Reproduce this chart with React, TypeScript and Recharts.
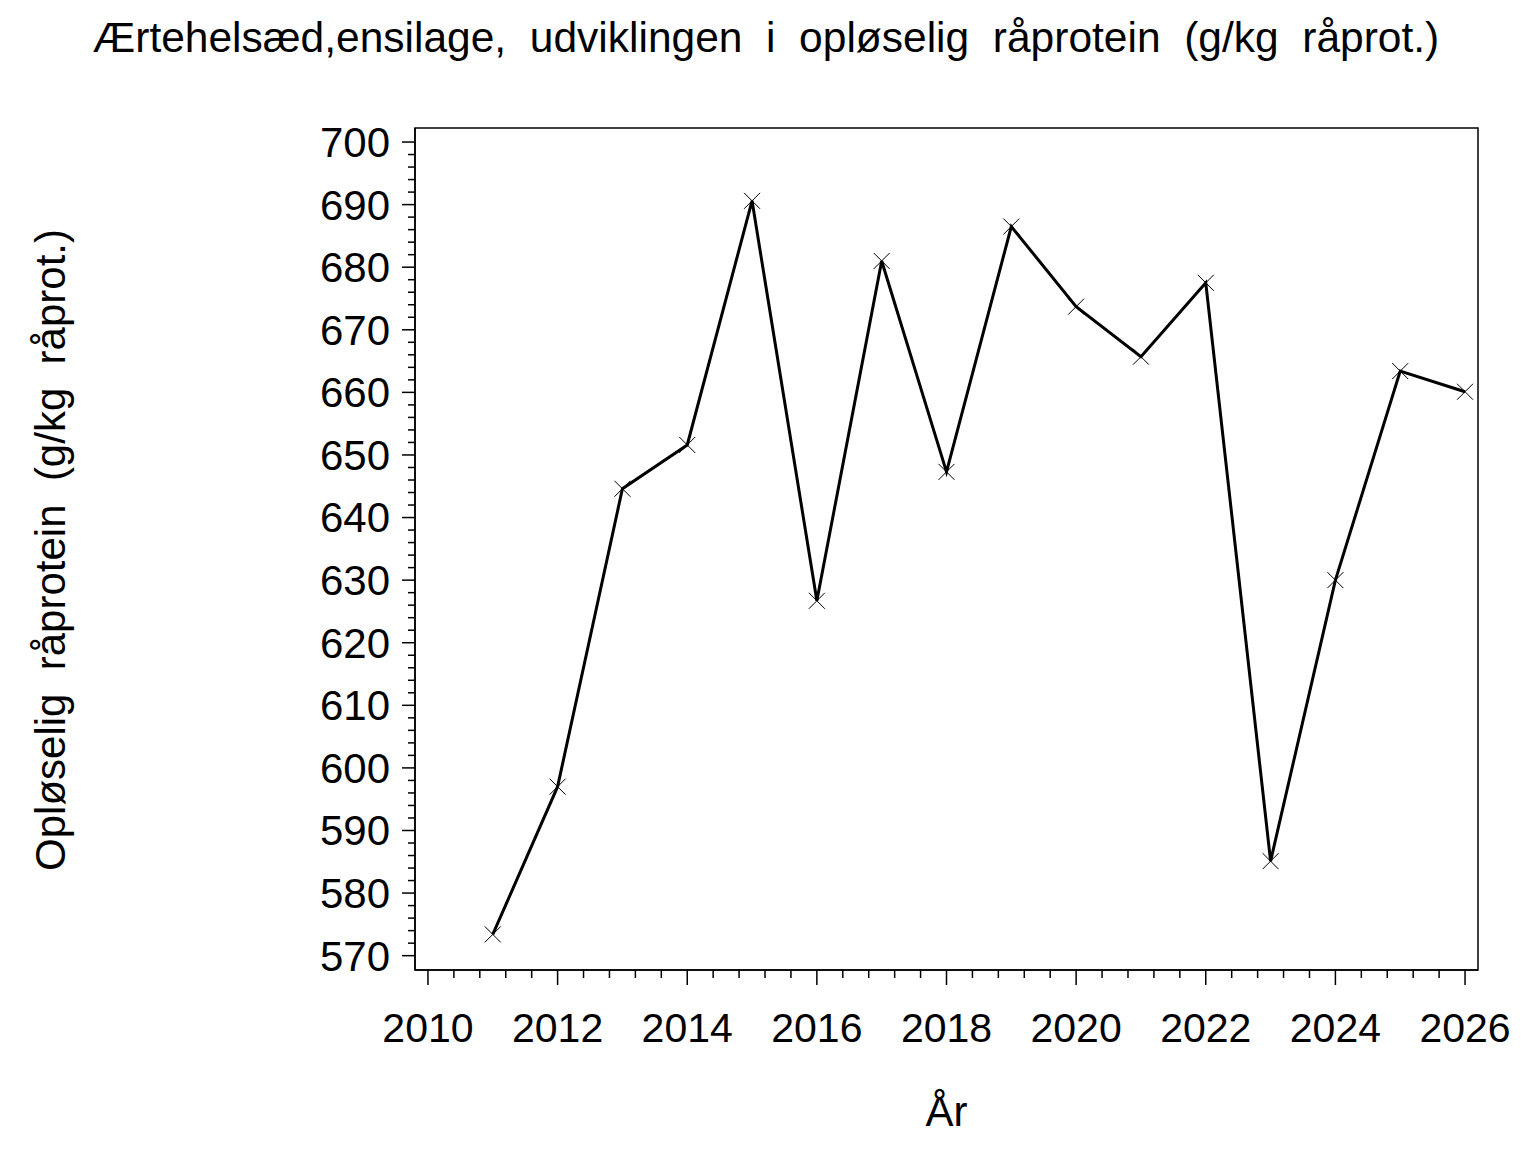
import React from 'react';
import { LineChart, Line, XAxis, YAxis, ReferenceArea } from 'recharts';

const years = [2011, 2012, 2013, 2014, 2015, 2016, 2017, 2018, 2019, 2020, 2021, 2022, 2023, 2024, 2025, 2026];
const values = [573.4, 597.0, 644.6, 651.6, 690.6, 626.7, 681.0, 647.3, 686.5, 673.7, 665.7, 677.5, 585.1, 630.0, 663.4, 660.1];

const yTicks = Array.from({ length: 66 }, (_, i) => 570 + i * 2);
const xTicks = Array.from({ length: 41 }, (_, i) => Math.round((2010 + i * 0.4) * 10) / 10);

const title = 'Ærtehelsæd,ensilage,  udviklingen  i  opløselig  råprotein  (g/kg  råprot.)';
const yLabel = 'Opløselig  råprotein  (g/kg  råprot.)';
const xLabel = 'År';

const data = years.map((y, i) => ({ year: y, value: values[i] }));

const FONT = '"Liberation Sans", Arial, sans-serif';
const W = 1520;
const H = 1136;

const YTick = (props: any) => {
  const { x, y, payload } = props;
  const v = payload.value;
  const major = Math.abs(v / 10 - Math.round(v / 10)) < 1e-6;
  return (
    <g>
      <line x1={x - (major ? 13 : 7)} x2={x} y1={y} y2={y} stroke="#000" strokeWidth={1.5} />
      {major && (
        <text x={x - 25} y={y} dy="0.355em" textAnchor="end" fontFamily={FONT} fontSize={42} fill="#000">
          {v}
        </text>
      )}
    </g>
  );
};

const XTick = (props: any) => {
  const { x, y, payload } = props;
  const v = payload.value;
  const major = Math.abs(v - Math.round(v)) < 1e-6 && Math.round(v) % 2 === 0;
  return (
    <g>
      <line x1={x} x2={x} y1={y} y2={y + (major ? 15 : 8)} stroke="#000" strokeWidth={1.5} />
      {major && (
        <text x={x} y={y + 72} textAnchor="middle" fontFamily={FONT} fontSize={41} fill="#000">
          {Math.round(v)}
        </text>
      )}
    </g>
  );
};

const XDot = (props: any) => {
  const { cx, cy } = props;
  if (cx == null || cy == null) return null;
  const s = 8;
  return (
    <g>
      <line x1={cx - s} y1={cy - s} x2={cx + s} y2={cy + s} stroke="#000" strokeWidth={1} />
      <line x1={cx - s} y1={cy + s} x2={cx + s} y2={cy - s} stroke="#000" strokeWidth={1} />
    </g>
  );
};

export default function App() {
  return (
    <div style={{ position: 'relative', width: W, height: H, background: '#fff' }}>
      <LineChart width={W} height={H} data={data} margin={{ top: 120, right: 50, bottom: 0, left: 0 }}>
        <XAxis
          dataKey="year"
          type="number"
          domain={[2009.8, 2026.2]}
          ticks={xTicks}
          interval={0}
          height={174}
          tickSize={0}
          tickMargin={0}
          tickLine={false}
          axisLine={{ stroke: '#000', strokeWidth: 1.5 }}
          tick={<XTick />}
          allowDataOverflow
        />
        <YAxis
          type="number"
          domain={[567.71, 702.24]}
          ticks={yTicks}
          interval={0}
          width={407}
          tickSize={0}
          tickMargin={0}
          tickLine={false}
          axisLine={{ stroke: '#000', strokeWidth: 1.5 }}
          tick={<YTick />}
          allowDataOverflow
        />
        <ReferenceArea
          x1={2009.8}
          x2={2026.2}
          y1={567.71}
          y2={702.24}
          fill="none"
          fillOpacity={0}
          stroke="#000"
          strokeWidth={1.5}
          ifOverflow="visible"
        />
        <Line
          type="linear"
          dataKey="value"
          stroke="#000"
          strokeWidth={3}
          dot={<XDot />}
          activeDot={false}
          isAnimationActive={false}
        />
      </LineChart>
      <svg
        width={W}
        height={H}
        style={{ position: 'absolute', left: 0, top: 0, pointerEvents: 'none' }}
      >
        <text x={758} y={44} textAnchor="middle" fontFamily={FONT} fontSize={42.5} fill="#000" style={{ whiteSpace: 'pre' }}>
          {title}
        </text>
        <text
          x={0}
          y={0}
          transform="translate(57,542) rotate(-90)"
          textAnchor="middle"
          fontFamily={FONT}
          fontSize={42}
          fill="#000"
          style={{ whiteSpace: 'pre' }}
        >
          {yLabel}
        </text>
        <text x={938.5} y={1118} textAnchor="middle" fontFamily={FONT} fontSize={42} fill="#000">
          {xLabel}
        </text>
      </svg>
    </div>
  );
}
